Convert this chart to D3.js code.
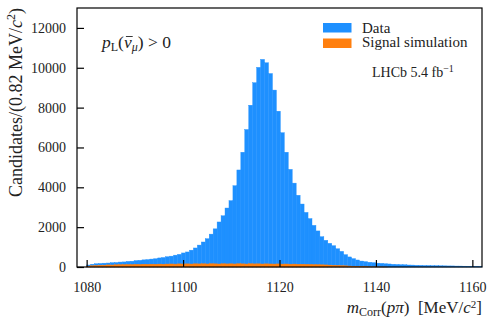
<!DOCTYPE html>
<html>
<head>
<meta charset="utf-8">
<script src="https://cdn.jsdelivr.net/npm/d3@7"></script>
<style>
  body { margin: 0; background: #fff; }
  text { font-family: "Liberation Serif", "DejaVu Serif", serif; fill: #222; }
</style>
</head>
<body>
<svg id="chart"></svg>
<script>
// histogram binning: 100 bins of 0.82 MeV starting at 1080
const binStart = 1080;
const binWidth = 0.82;

const dataCounts = [
  100, 140, 165, 178, 192, 200, 218, 226, 248, 255,
  282, 290, 322, 335, 358, 372, 398, 415, 455, 476,
  515, 545, 595, 635, 705, 755, 845, 955, 1100, 1255,
  1420, 1650, 1915, 2260, 2570, 2960, 3330, 4080, 4870, 5760,
  6900, 8120, 9250, 10020, 10420, 10250, 9710, 8880, 7820, 6740,
  5760, 4900, 4210, 3600, 3160, 2740, 2430, 2090, 1810, 1520,
  1340, 1190, 1070, 915, 785, 620, 505, 420, 352, 298,
  268, 238, 218, 192, 182, 163, 152, 136, 127, 116,
  111, 100, 96, 87, 83, 76, 75, 68, 67, 61,
  58, 54, 53, 47, 46, 41, 40, 37, 36, 31
];

const signalCounts = [
  45, 62, 74, 88, 92, 104, 101, 112, 118, 121,
  126, 124, 133, 130, 138, 135, 142, 139, 146, 141,
  148, 152, 145, 156, 150, 158, 149, 160, 155, 162,
  152, 165, 158, 150, 163, 155, 160, 152, 166, 158,
  150, 162, 156, 160, 150, 158, 152, 148, 155, 146,
  150, 142, 146, 138, 140, 132, 128, 122, 118, 110,
  104, 96, 88, 80, 70, 60, 50, 40, 30, 20,
  14, 9, 6, 4, 2, 1, 0, 0, 0, 0,
  0, 0, 0, 0, 0, 0, 0, 0, 0, 0,
  0, 0, 0, 0, 0, 0, 0, 0, 0, 0
];

const xTicks = [1080, 1100, 1120, 1140, 1160];
const yTicks = [0, 2000, 4000, 6000, 8000, 10000, 12000];

const width = 494, height = 323;
const margin = { top: 8, right: 12, bottom: 56, left: 77 };

const svg = d3.select('#chart')
  .attr('width', width)
  .attr('height', height);

const x = d3.scaleLinear()
  .domain([1078, 1162])
  .range([margin.left, width - margin.right]);

const y = d3.scaleLinear()
  .domain([0, 13000])
  .range([height - margin.bottom, margin.top]);

const toBin = (v, i) => ({ x0: binStart + i * binWidth, x1: binStart + (i + 1) * binWidth, v });

const drawHist = (values, color) => {
  svg.append('g')
    .selectAll('rect')
    .data(values.map(toBin))
    .enter()
    .append('rect')
    .attr('x', d => x(d.x0))
    .attr('width', d => x(d.x1) - x(d.x0))
    .attr('y', d => y(d.v))
    .attr('height', d => y(0) - y(d.v))
    .attr('fill', color)
    .attr('stroke', color)
    .attr('stroke-width', 0.4);
};

drawHist(dataCounts, '#1e90ff');
drawHist(signalCounts, '#ff7f0e');

// axes with inward ticks
const xAxis = svg.append('g')
  .attr('transform', `translate(0,${height - margin.bottom})`)
  .call(d3.axisBottom(x).tickValues(xTicks).tickSizeInner(-7).tickSizeOuter(0).tickPadding(15).tickFormat(d3.format('d')));

const yAxis = svg.append('g')
  .attr('transform', `translate(${margin.left},0)`)
  .call(d3.axisLeft(y).tickValues(yTicks).tickSizeInner(-7).tickSizeOuter(0).tickPadding(11).tickFormat(d3.format('d')));

[xAxis, yAxis].forEach(g => {
  g.select('.domain').remove();
  g.selectAll('.tick line').attr('stroke', '#000').attr('stroke-width', 1.2);
  g.selectAll('.tick text')
    .style('font-family', '"Liberation Serif", serif')
    .style('font-size', '14px')
    .attr('fill', '#222');
});

// frame
svg.append('rect')
  .attr('x', margin.left)
  .attr('y', margin.top)
  .attr('width', width - margin.right - margin.left)
  .attr('height', height - margin.bottom - margin.top)
  .attr('fill', 'none')
  .attr('stroke', '#000')
  .attr('stroke-width', 1.2);

// axis titles
const yl = svg.append('text')
  .attr('transform', `translate(22,${margin.top}) rotate(-90)`)
  .attr('text-anchor', 'end')
  .style('font-size', '18px');
yl.append('tspan').text('Candidates/(0.82 MeV/');
yl.append('tspan').attr('font-style', 'italic').text('c');
yl.append('tspan').attr('dy', -7).style('font-size', '12px').text('2');
yl.append('tspan').attr('dy', 7).text(')');

const xl = svg.append('text')
  .attr('x', width - margin.right)
  .attr('y', 313)
  .attr('text-anchor', 'end')
  .style('font-size', '17px');
xl.append('tspan').attr('font-style', 'italic').text('m');
xl.append('tspan').attr('dy', 3).style('font-size', '12px').text('Corr');
xl.append('tspan').attr('dy', -3).text('(');
xl.append('tspan').attr('font-style', 'italic').text('pπ');
xl.append('tspan').text(')\u2002[MeV/');
xl.append('tspan').attr('font-style', 'italic').text('c');
xl.append('tspan').attr('dy', -5).style('font-size', '11px').text('2');
xl.append('tspan').attr('dy', 5).text(']');

// selection label
const sel = svg.append('text')
  .attr('x', 102)
  .attr('y', 48)
  .style('font-size', '17.5px');
sel.append('tspan').attr('font-style', 'italic').text('p');
sel.append('tspan').attr('dy', 3).style('font-size', '12px').text('L');
sel.append('tspan').attr('dy', -3).text('(');
sel.append('tspan').attr('font-style', 'italic').text('ν');
sel.append('tspan').attr('dy', 3).attr('font-style', 'italic').style('font-size', '12px').text('μ');
sel.append('tspan').attr('dy', -3).text(')\u2005>\u20050');

// macron over the nu
const nuBox = sel.node().getExtentOfChar(3);
svg.append('line')
  .attr('x1', nuBox.x + 2).attr('x2', nuBox.x + nuBox.width + 1)
  .attr('y1', 48 - 11.5).attr('y2', 48 - 11.5)
  .attr('stroke', '#222').attr('stroke-width', 0.9);

// legend
const legendData = [
  { name: 'Data', color: '#1e90ff' },
  { name: 'Signal simulation', color: '#ff7f0e' }
];
const leg = svg.append('g');
legendData.forEach((item, i) => {
  leg.append('rect')
    .attr('x', 323).attr('y', 23 + i * 15.5)
    .attr('width', 28.5).attr('height', 9.5)
    .attr('fill', item.color);
  leg.append('text')
    .attr('x', 362).attr('y', 32.5 + i * 14.5)
    .style('font-size', '15px')
    .text(item.name);
});

const lumi = svg.append('text')
  .attr('x', 372)
  .attr('y', 77)
  .style('font-size', '14px');
lumi.append('tspan').text('LHCb 5.4 fb');
lumi.append('tspan').attr('dy', -5).style('font-size', '10px').text('−1');
</script>
</body>
</html>
